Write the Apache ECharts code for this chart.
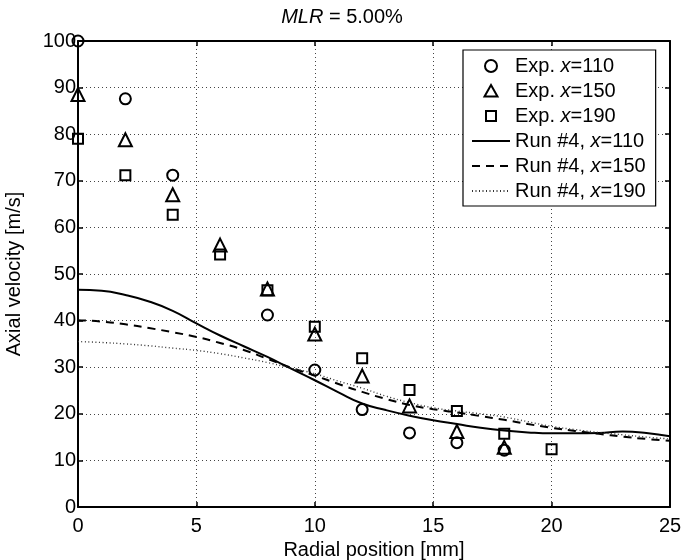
<!DOCTYPE html>
<html>
<head>
<meta charset="utf-8">
<script src="https://cdn.jsdelivr.net/npm/echarts@6/dist/echarts.min.js"></script>
<style>html,body{margin:0;padding:0;background:#fff}#c{width:684px;height:560px}</style>
</head>
<body>
<div id="c"></div>
<script>
// Experimental data
var exp110X = [0, 2, 4, 8, 10, 12, 14, 16, 18];
var exp110Y = [100, 87.6, 71.2, 41.2, 29.4, 20.9, 15.9, 13.8, 12.2];
var exp150X = [0, 2, 4, 6, 8, 10, 12, 14, 16, 18];
var exp150Y = [88.5, 78.8, 67.0, 56.2, 46.8, 37.1, 28.1, 21.7, 16.2, 12.8];
var exp190X = [0, 2, 4, 6, 8, 10, 12, 14, 16, 18, 20];
var exp190Y = [79.0, 71.2, 62.7, 54.2, 46.5, 38.7, 31.9, 25.1, 20.6, 15.7, 12.4];
// Simulation (Run #4) profiles
var runX = [0, 1, 2, 3, 4, 5, 6, 7, 8, 9, 10, 11, 12, 13, 14, 15, 16, 17, 18, 19, 20, 21, 22, 23, 24, 25];
var run110 = [46.6, 46.4, 45.5, 44.1, 42.1, 39.4, 36.8, 34.5, 32.2, 29.7, 27.2, 24.6, 22.2, 20.8, 19.6, 18.6, 17.8, 17.0, 16.4, 16.0, 15.8, 15.8, 15.9, 16.2, 15.9, 15.2];
var run150 = [40.1, 39.8, 39.2, 38.4, 37.5, 36.5, 35.2, 33.7, 31.8, 29.9, 28.2, 26.4, 24.7, 23.2, 21.9, 21.0, 20.3, 19.5, 18.7, 17.8, 17.0, 16.3, 15.7, 15.1, 14.6, 14.2];
var run190 = [35.5, 35.3, 35.0, 34.6, 34.1, 33.6, 32.9, 32.0, 31.0, 29.8, 28.6, 27.0, 25.5, 23.8, 22.4, 21.3, 20.6, 20.0, 19.3, 18.3, 17.3, 16.6, 16.0, 15.5, 15.0, 14.6];
var seriesNames = ['Exp. x=110', 'Exp. x=150', 'Exp. x=190', 'Run #4, x=110', 'Run #4, x=150', 'Run #4, x=190'];
var titleText = '{i|MLR} = 5.00%';
var xName = 'Radial position [mm]';
var yName = 'Axial velocity [m/s]';

function pairs(xs, ys) { return xs.map(function (x, i) { return [x, ys[i]]; }); }

var FONT = 'Liberation Sans, Arial, sans-serif';
var FS = 20;
var grid = { left: 78, right: 14, top: 41, bottom: 53, containLabel: false, outerBoundsMode: 'none' };

function axisCommon(isX, show) {
  return {
    type: 'value',
    min: 0, max: isX ? 25 : 100, interval: isX ? 5 : 10,
    axisLine: { show: true, onZero: false, lineStyle: { color: '#000', width: 2 } },
    axisTick: { show: true, inside: true, length: 5, lineStyle: { color: '#000', width: 1.5 } },
    axisLabel: { show: show, color: '#000', fontSize: FS, fontFamily: FONT, margin: isX ? 9 : 2 },
    splitLine: { show: show, lineStyle: { color: '#444', width: 1, type: [1, 3] } }
  };
}

var xMain = axisCommon(true, true);
xMain.position = 'bottom';
xMain.name = xName; xMain.nameLocation = 'middle'; xMain.nameGap = 23;
xMain.nameTextStyle = { color: '#000', fontSize: FS, fontFamily: FONT };
var xTop = axisCommon(true, false); xTop.position = 'top';
var yMain = axisCommon(false, true);
yMain.position = 'left';
yMain.name = yName; yMain.nameLocation = 'middle'; yMain.nameGap = 54;
yMain.nameTextStyle = { color: '#000', fontSize: FS, fontFamily: FONT };
var yRight = axisCommon(false, false); yRight.position = 'right';

function scatterSeries(name, sym, size, data) {
  return {
    name: name, type: 'scatter', xAxisIndex: 0, yAxisIndex: 0,
    symbol: sym, symbolSize: size, clip: false, z: 5,
    itemStyle: { color: 'rgba(255,255,255,0)', borderColor: '#000', borderWidth: 2, opacity: 1 },
    emphasis: { disabled: true },
    data: data
  };
}
function lineSeries(name, ys, style) {
  return {
    name: name, type: 'line', xAxisIndex: 0, yAxisIndex: 0,
    smooth: true, showSymbol: false, symbol: 'none',
    lineStyle: style, itemStyle: { color: style.color },
    data: pairs(runX, ys), z: 3
  };
}

// legend icons: keep the marker shapes undistorted within a wide icon box
var triIcon = 'path://M0 0M38 12M19 0L25.5 11.5L12.5 11.5Z';
var rectIcon = 'path://M0 0M38 12M14 1L24 1L24 11L14 11Z';
var circIcon = 'circle';
var hideSym = { color: 'rgba(0,0,0,0)', borderColor: 'rgba(0,0,0,0)', borderWidth: 0 };

var chart = echarts.init(document.getElementById('c'), null, { renderer: 'canvas' });
chart.setOption({
  animation: false,
  backgroundColor: '#fff',
  title: {
    text: titleText, left: 'center', top: 2,
    textStyle: { color: '#000', fontSize: FS, fontWeight: 'normal', fontFamily: FONT,
      rich: { i: { fontStyle: 'italic', fontSize: FS, fontFamily: FONT, color: '#000' } } }
  },
  grid: grid,
  xAxis: [xMain, xTop],
  yAxis: [yMain, yRight],
  legend: {
    orient: 'vertical', left: 463, top: 50,
    padding: [6, 10, 5, 8], itemGap: 5, itemWidth: 38, itemHeight: 12,
    backgroundColor: '#fff', borderColor: '#000', borderWidth: 1.2,
    data: [
      { name: seriesNames[0], icon: circIcon },
      { name: seriesNames[1], icon: triIcon },
      { name: seriesNames[2], icon: rectIcon },
      { name: seriesNames[3], itemStyle: hideSym },
      { name: seriesNames[4], itemStyle: hideSym },
      { name: seriesNames[5], itemStyle: hideSym }
    ],
    formatter: function (n) { return n.replace('x=', '{i|x}='); },
    textStyle: { color: '#000', fontSize: FS, fontFamily: FONT, lineHeight: 20,
      rich: { i: { fontStyle: 'italic', fontSize: FS, fontFamily: FONT, color: '#000' } } }
  },
  series: [
    scatterSeries(seriesNames[0], 'circle', 11, pairs(exp110X, exp110Y)),
    scatterSeries(seriesNames[1], 'triangle', 13, pairs(exp150X, exp150Y)),
    scatterSeries(seriesNames[2], 'rect', 10, pairs(exp190X, exp190Y)),
    lineSeries(seriesNames[3], run110, { color: '#000', width: 2, type: 'solid' }),
    lineSeries(seriesNames[4], run150, { color: '#000', width: 2, type: [8, 6] }),
    lineSeries(seriesNames[5], run190, { color: '#333', width: 1.4, type: [1, 2.5] })
  ]
});
</script>
</body>
</html>
